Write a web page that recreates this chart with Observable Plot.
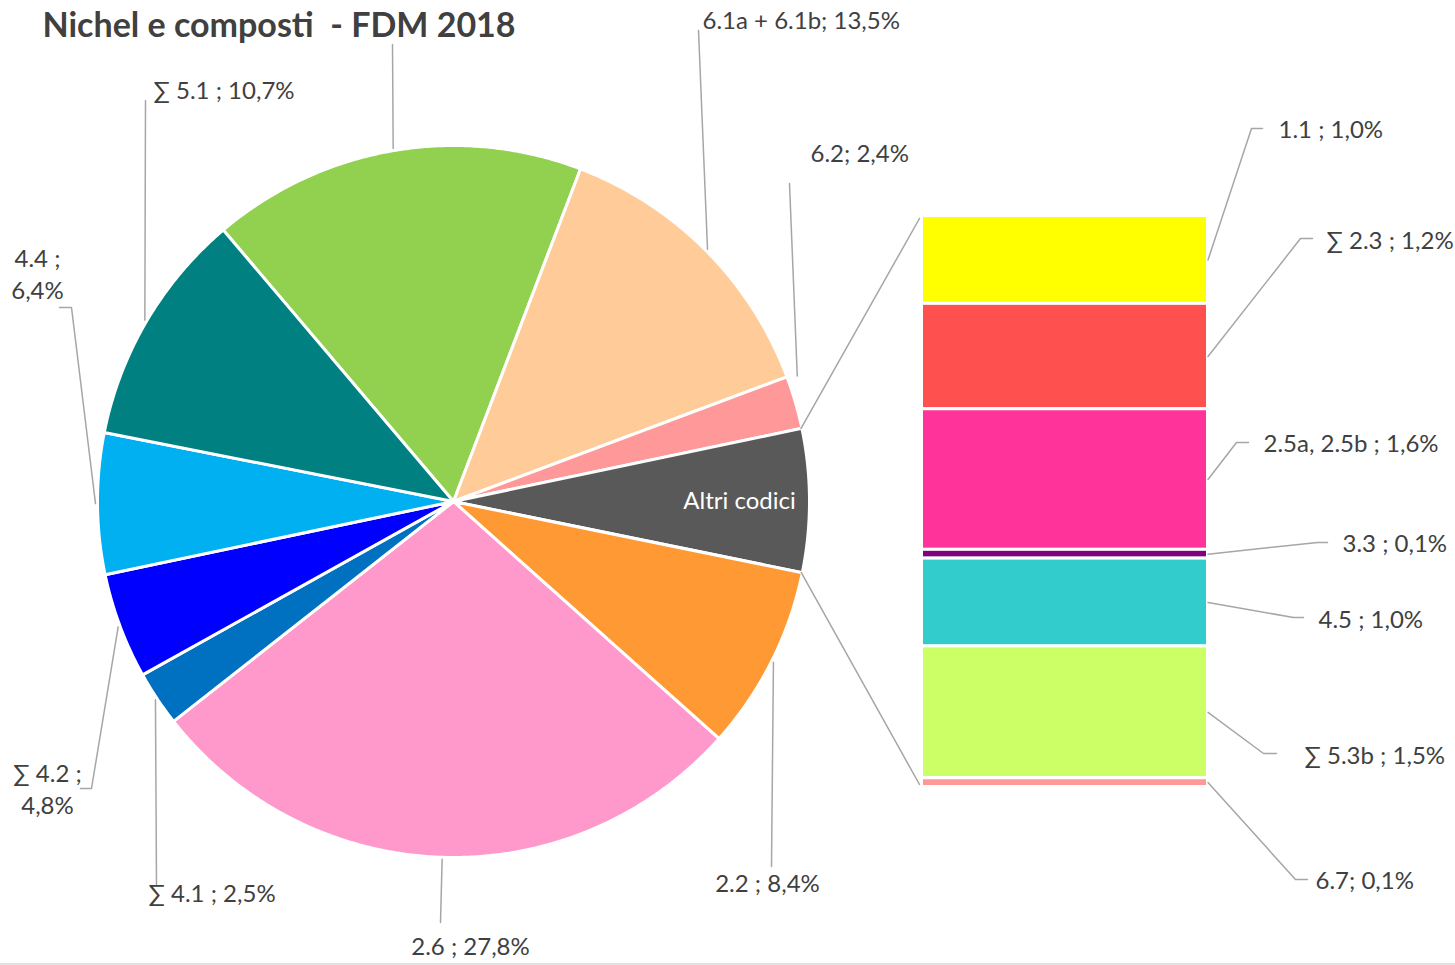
<!DOCTYPE html>
<html>
<head>
<meta charset="utf-8">
<script src="https://cdn.jsdelivr.net/npm/d3@7"></script>
<script src="https://cdn.jsdelivr.net/npm/@observablehq/plot@0.6"></script>
<style>
  html, body { margin: 0; padding: 0; background: #ffffff; }
  #chart { width: 1455px; height: 965px; overflow: hidden; }
</style>
</head>
<body>
<div id="chart"></div>
<script>
// ---------------- DATA ----------------
const title = "Nichel e composti  - FDM 2018";

// Pie slices, clockwise starting from the green slice at the top
const pieCodes  = ["(etichetta non visibile)", "6.1a + 6.1b", "6.2", "Altri codici", "2.2", "2.6", "∑ 4.1", "∑ 4.2", "4.4", "∑ 5.1"];
const pieValues = [17.0, 13.5, 2.4, 6.5, 8.4, 27.8, 2.5, 4.8, 6.4, 10.7];
const pieLabels = [null, "6.1a + 6.1b; 13,5%", "6.2; 2,4%", "Altri codici", "2.2 ; 8,4%", "2.6 ; 27,8%", "∑ 4.1 ; 2,5%", "∑ 4.2 ;\n4,8%", "4.4 ;\n6,4%", "∑ 5.1 ; 10,7%"];
const pieColors = ["#92D050", "#FFCC99", "#FF9999", "#595959", "#FF9933", "#FF99CC", "#0070C0", "#0000FF", "#00B0F0", "#008080"];

// Breakdown of "Altri codici" (bar of pie), top to bottom
const barCodes  = ["1.1", "∑ 2.3", "2.5a, 2.5b", "3.3", "4.5", "∑ 5.3b", "6.7"];
const barValues = [1.0, 1.2, 1.6, 0.1, 1.0, 1.5, 0.1];
const barLabels = ["1.1 ; 1,0%", "∑ 2.3 ; 1,2%", "2.5a, 2.5b ; 1,6%", "3.3 ; 0,1%", "4.5 ; 1,0%", "∑ 5.3b ; 1,5%", "6.7; 0,1%"];
const barColors = ["#FFFF00", "#FF5050", "#FF3399", "#800080", "#33CCCC", "#CCFF66", "#FF9999"];

// ---------------- LAYOUT ----------------
const W = 1455, H = 965;
const CX = 453, CY = 501, R = 356;
const START_DEG = -40.3;
const BAR = {x1: 921.5, x2: 1207.5, y1: 215.5, y2: 786.5};
const FONT = "Lato, 'Open Sans', sans-serif";
const TEXT = "#404040";
const LEADER = "#A6A6A6";

// label placement for each pie slice: leader bend/end points and label anchor
const pieLayout = [
  {pts: [[392, 44]]},
  {pts: [[698, 30]], lx: 702, ly: 20, anchor: "start"},
  {pts: [[789, 183]], lx: 810, ly: 153, anchor: "start", t: 0.05, dr: 10},
  {inside: true, lx: 739, ly: 502},
  {pts: [[771, 866]], lx: 767, ly: 883, anchor: "middle"},
  {pts: [[440, 922]], lx: 470, ly: 946, anchor: "middle"},
  {pts: [[156, 884]], lx: 148, ly: 893, anchor: "start"},
  {pts: [[91, 788], [80, 788]], lx: 47, ly: 789, anchor: "middle"},
  {pts: [[71, 307], [59, 307]], lx: 37, ly: 274, anchor: "middle"},
  {pts: [[145, 100]], lx: 153, ly: 90, anchor: "start"}
];
const barLayout = [
  {pts: [[1251, 128], [1262, 128]], lx: 1278, ly: 129},
  {pts: [[1300, 238], [1312, 238]], lx: 1326, ly: 240},
  {pts: [[1236, 442], [1248, 442]], lx: 1263, ly: 443},
  {pts: [[1317, 542], [1327, 542]], lx: 1342, ly: 543},
  {pts: [[1293, 617], [1303, 617]], lx: 1318, ly: 619},
  {pts: [[1263, 753], [1276, 753]], lx: 1304, ly: 755},
  {pts: [[1295, 879], [1307, 879]], lx: 1315, ly: 880}
];

// ---------------- GEOMETRY FROM DATA ----------------
const rad = Math.PI / 180;
const a0 = START_DEG * rad;
const arcs = d3.pie().sort(null).startAngle(a0).endAngle(a0 + 2 * Math.PI)(pieValues);
const polar = (a, r) => [CX + r * Math.sin(a), CY - r * Math.cos(a)];

const sliceRows = [];
arcs.forEach((arc, i) => {
  const n = Math.max(4, Math.ceil((arc.endAngle - arc.startAngle) / (0.4 * rad)));
  const pts = [[CX, CY]];
  for (let k = 0; k <= n; k++) pts.push(polar(arc.startAngle + (arc.endAngle - arc.startAngle) * k / n, R));
  pts.push([CX, CY]);
  pts.forEach(([x, y]) => sliceRows.push({id: pieCodes[i], x, y, color: pieColors[i]}));
});

// bar segments (stacked top to bottom)
const barY = d3.scaleLinear().domain([0, d3.sum(barValues)]).range([BAR.y1, BAR.y2]);
const cum = d3.cumsum(barValues);
const barRows = barValues.map((v, i) => ({
  code: barCodes[i], y1: barY(cum[i] - v), y2: barY(cum[i]), color: barColors[i]
}));

// leader lines
const leaderRows = [];
const labelRows = [];
arcs.forEach((arc, i) => {
  const L = pieLayout[i];
  if (L.inside) {
    labelRows.push({text: pieLabels[i], x: L.lx, y: L.ly, anchor: "inside"});
    return;
  }
  const t = L.t ?? 0.5, dr = L.dr ?? 2;
  const start = polar(arc.startAngle + (arc.endAngle - arc.startAngle) * t, R + dr);
  [start, ...L.pts].forEach(([x, y]) => leaderRows.push({id: "p" + i, x, y}));
  if (pieLabels[i]) labelRows.push({text: pieLabels[i], x: L.lx, y: L.ly, anchor: L.anchor});
});
barRows.forEach((b, i) => {
  const L = barLayout[i];
  const start = [BAR.x2, (b.y1 + b.y2) / 2];
  [start, ...L.pts].forEach(([x, y]) => leaderRows.push({id: "b" + i, x, y}));
  labelRows.push({text: barLabels[i], x: L.lx, y: L.ly, anchor: "start"});
});

// connectors from "Altri codici" slice to the bar
const other = arcs[pieCodes.indexOf("Altri codici")];
const connRows = [
  ...[polar(other.startAngle, R - 1), [BAR.x1 - 2.5, BAR.y1 + 2.5]].map(([x, y]) => ({id: "top", x, y})),
  ...[polar(other.endAngle, R - 1), [BAR.x1 - 2.5, BAR.y2 - 2.5]].map(([x, y]) => ({id: "bottom", x, y}))
];

// ---------------- PLOT ----------------
const chart = Plot.plot({
  width: W, height: H,
  margin: 0,
  x: {domain: [0, W], range: [0, W], axis: null},
  y: {domain: [0, H], range: [0, H], axis: null},
  color: {type: "identity"},
  style: {fontFamily: FONT, background: "#ffffff", overflow: "hidden"},
  marks: [
    Plot.ruleY([H - 1.5], {stroke: "#D9D9D9", strokeWidth: 1.5}),
    Plot.line(sliceRows, {x: "x", y: "y", z: "id", fill: "color", stroke: "#ffffff", strokeWidth: 3, strokeLinejoin: "round", curve: "linear"}),
    Plot.rect(barRows, {x1: BAR.x1, x2: BAR.x2, y1: "y1", y2: "y2", fill: "color", stroke: "#ffffff", strokeWidth: 3}),
    Plot.line(connRows, {x: "x", y: "y", z: "id", stroke: LEADER, strokeWidth: 1.5}),
    Plot.line(leaderRows, {x: "x", y: "y", z: "id", stroke: LEADER, strokeWidth: 1.5}),
    Plot.text(labelRows.filter(d => d.anchor === "start"), {x: "x", y: "y", text: "text", textAnchor: "start", fill: TEXT, fontSize: 24, lineHeight: 1.33, dy: -2}),
    Plot.text(labelRows.filter(d => d.anchor === "middle"), {x: "x", y: "y", text: "text", textAnchor: "middle", fill: TEXT, fontSize: 24, lineHeight: 1.33, dy: -2}),
    Plot.text(labelRows.filter(d => d.anchor === "inside"), {x: "x", y: "y", text: "text", textAnchor: "middle", fill: "#ffffff", fontSize: 24, dy: -1}),
    Plot.text([title], {x: 42, y: 26, text: d => d, textAnchor: "start", fill: "#404040", fontSize: 34, fontWeight: "bold"})
  ]
});
document.getElementById("chart").appendChild(chart);
</script>
</body>
</html>
